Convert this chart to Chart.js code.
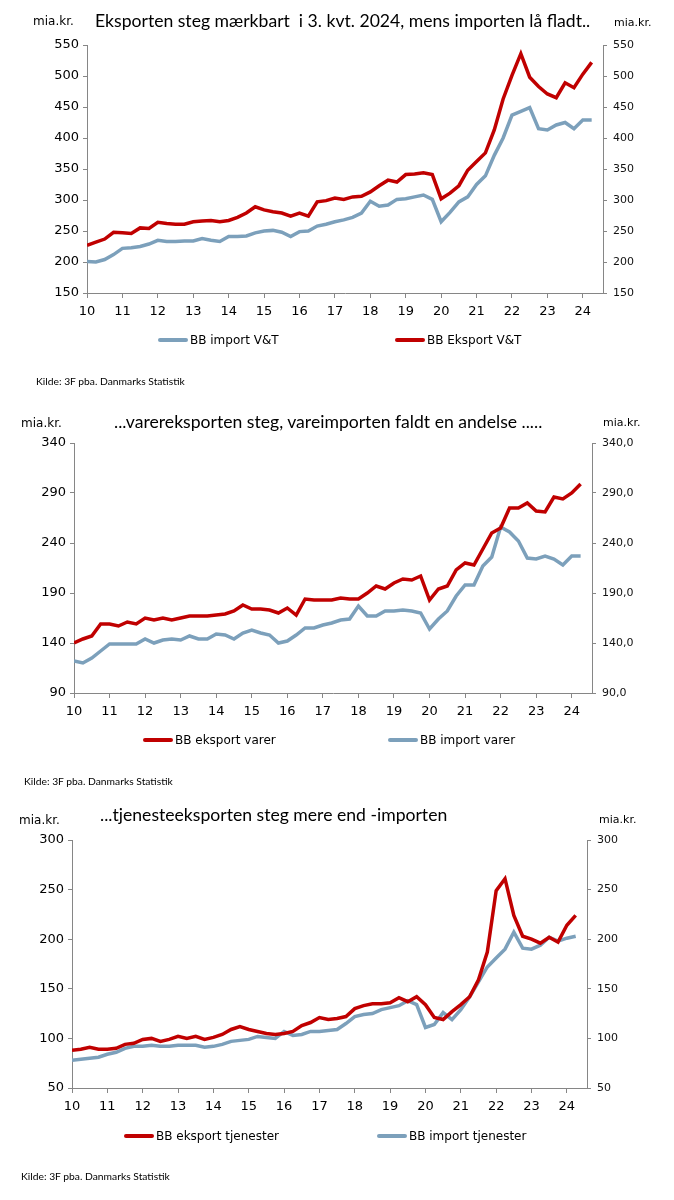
<!DOCTYPE html>
<html>
<head>
<meta charset="utf-8">
<script src="https://cdn.jsdelivr.net/npm/chart.js@4.4.1/dist/chart.umd.min.js"></script>
<style>
  body { margin: 0; background: #fff; }
  .panel { position: absolute; left: 0; width: 674px; height: 400px; }
  .panel canvas { position: absolute; left: 0; top: 0; }
  .title { position: absolute; font-family: Lato, sans-serif; font-size: 17.6px; line-height: 18px; color: #000; white-space: pre; }
  .unit { position: absolute; font-family: "DejaVu Sans", sans-serif; font-size: 12px; line-height: 12px; color: #000; }
  .unit.r { font-size: 11px; line-height: 11px; }
  .src { position: absolute; font-family: Lato, sans-serif; font-size: 10.3px; line-height: 11px; color: #000; white-space: pre; }
</style>
</head>
<body>

<div class="panel" style="top:0">
  <canvas id="c1" width="674" height="400"></canvas>
  <div class="title" style="left:95px; top:12px">Eksporten steg mærkbart  i 3. kvt. 2024, mens importen lå fladt..</div>
  <div class="unit" style="left:33px; top:15px">mia.kr.</div>
  <div class="unit r" style="left:614px; top:17px">mia.kr.</div>
  <div class="src" style="left:36px; top:376px">Kilde: 3F pba. Danmarks Statistik</div>
</div>

<div class="panel" style="top:400px">
  <canvas id="c2" width="674" height="400"></canvas>
  <div class="title" style="left:114px; top:13px">...varereksporten steg, vareimporten faldt en andelse .....</div>
  <div class="unit" style="left:21px; top:17px">mia.kr.</div>
  <div class="unit r" style="left:603px; top:17px">mia.kr.</div>
  <div class="src" style="left:24px; top:376px">Kilde: 3F pba. Danmarks Statistik</div>
</div>

<div class="panel" style="top:800px">
  <canvas id="c3" width="674" height="400"></canvas>
  <div class="title" style="left:100px; top:6px">...tjenesteeksporten steg mere end -importen</div>
  <div class="unit" style="left:19px; top:14px">mia.kr.</div>
  <div class="unit r" style="left:599px; top:14px">mia.kr.</div>
  <div class="src" style="left:21px; top:371px">Kilde: 3F pba. Danmarks Statistik</div>
</div>

<script>
// kvartaler 2010K1 - 2024K2
const quarters = [
  '2010K1', '2010K2', '2010K3', '2010K4', '2011K1', '2011K2', '2011K3', '2011K4',
  '2012K1', '2012K2', '2012K3', '2012K4', '2013K1', '2013K2', '2013K3', '2013K4',
  '2014K1', '2014K2', '2014K3', '2014K4', '2015K1', '2015K2', '2015K3', '2015K4',
  '2016K1', '2016K2', '2016K3', '2016K4', '2017K1', '2017K2', '2017K3', '2017K4',
  '2018K1', '2018K2', '2018K3', '2018K4', '2019K1', '2019K2', '2019K3', '2019K4',
  '2020K1', '2020K2', '2020K3', '2020K4', '2021K1', '2021K2', '2021K3', '2021K4',
  '2022K1', '2022K2', '2022K3', '2022K4', '2023K1', '2023K2', '2023K3', '2023K4',
  '2024K1', '2024K2'
];
const yearTicks = ['10', '11', '12', '13', '14', '15', '16', '17', '18', '19', '20', '21', '22', '23', '24'];

// varer og tjenester
const importVT = [
  201, 200, 204, 212, 222, 223, 225, 229,
  235, 233, 233, 234, 234, 238, 235, 233,
  241, 241, 242, 247, 250, 251, 248, 241,
  249, 250, 258, 261, 265, 268, 272, 279,
  298, 290, 292, 301, 302, 305, 308, 301,
  265, 280, 297, 305, 325, 339, 372, 400,
  437, 443, 449, 415, 413, 421, 425, 415,
  429, 429
];
const eksportVT = [
  227, 232, 237, 248, 247, 246, 255, 254,
  264, 262, 261, 261, 265, 266, 267, 265,
  267, 272, 279, 289, 284, 281, 279, 274,
  279, 274, 297, 299, 303, 301, 305, 306,
  313, 323, 332, 329, 341, 342, 344, 341,
  302, 311, 323, 348, 362, 376, 413, 463,
  501, 536, 498, 483, 471, 465, 489, 481,
  503, 522
];

// varer
const eksportVarer = [
  140, 144, 147, 159, 159, 157, 161, 159,
  165, 163, 165, 163, 165, 167, 167, 167,
  168, 169, 172, 178, 174, 174, 173, 170,
  175, 168, 184, 183, 183, 183, 185, 184,
  184, 190, 197, 194, 200, 204, 203, 207,
  183, 194, 197, 213, 220, 218, 234, 250,
  255, 275, 275, 280, 272, 271, 286, 284,
  290, 299
];
const importVarer = [
  122, 120, 125, 132, 139, 139, 139, 139,
  144, 140, 143, 144, 143, 147, 144, 144,
  149, 148, 144, 150, 153, 150, 148, 140,
  142, 148, 155, 155, 158, 160, 163, 164,
  177, 167, 167, 172, 172, 173, 172, 170,
  154, 164, 172, 187, 198, 198, 217, 226,
  256, 251, 242, 225, 224, 227, 224, 218,
  227, 227
];

// tjenester
const eksportTjen = [
  88, 89, 91, 89, 89, 90, 94, 95,
  99, 100, 97, 99, 102, 100, 102, 99,
  101, 104, 109, 112, 109, 107, 105, 104,
  105, 107, 113, 116, 121, 119, 120, 122,
  130, 133, 135, 135, 136, 141, 137, 142,
  134, 121, 119, 127, 134, 142, 159, 187,
  249, 261, 224, 203, 200, 196, 202, 197,
  214, 224
];
const importTjen = [
  78, 79, 80, 81, 84, 86, 90, 92,
  92, 93, 92, 92, 93, 93, 93, 91,
  92, 94, 97, 98, 99, 102, 101, 100,
  107, 103, 104, 107, 107, 108, 109, 115,
  122, 124, 125, 129, 131, 133, 138, 134,
  111, 114, 126, 119, 129, 142, 157, 172,
  181, 190, 207, 191, 190, 194, 202, 198,
  201, 203
];

const red = '#C00000';
const blue = '#7CA0BB';
const axisGray = '#868686';

function quarterX(q) {
  return parseInt(q.slice(0, 4)) + (parseInt(q.slice(5)) - 1) / 4;
}

// legende tegnet som korte linjer, placeret som i Excel-figuren
const lineLegend = {
  id: 'lineLegend',
  afterDraw(chart, args, opts) {
    const ctx = chart.ctx;
    ctx.save();
    ctx.font = '12px "DejaVu Sans"';
    ctx.textBaseline = 'middle';
    ctx.lineCap = 'round';
    chart.data.datasets.forEach((ds, i) => {
      const x = opts.xs[i];
      ctx.strokeStyle = ds.borderColor;
      ctx.lineWidth = 4;
      ctx.beginPath();
      ctx.moveTo(x + 2, opts.y);
      ctx.lineTo(x + 28, opts.y);
      ctx.stroke();
      ctx.fillStyle = '#000';
      ctx.fillText(ds.label, x + 32, opts.y + 1);
    });
    ctx.restore();
  }
};

const panels = [
  {
    id: 'c1', left: 87, right: 603, top: 45, bottom: 293, min: 150, max: 550,
    series: [
      { label: 'BB import V&T', data: importVT, color: blue },
      { label: 'BB Eksport V&T', data: eksportVT, color: red }
    ],
    rightFmt: v => String(v),
    legendY: 340, legendX: [158, 395]
  },
  {
    id: 'c2', left: 74, right: 592, top: 43, bottom: 293, min: 90, max: 340,
    series: [
      { label: 'BB eksport varer', data: eksportVarer, color: red },
      { label: 'BB import varer', data: importVarer, color: blue }
    ],
    rightFmt: v => v.toFixed(1).replace('.', ','),
    legendY: 340, legendX: [143, 388]
  },
  {
    id: 'c3', left: 72, right: 587, top: 40, bottom: 288, min: 50, max: 300,
    series: [
      { label: 'BB eksport tjenester', data: eksportTjen, color: red },
      { label: 'BB import tjenester', data: importTjen, color: blue }
    ],
    rightFmt: v => String(v),
    legendY: 336, legendX: [124, 377]
  }
];

function buildChart(p) {
  const xHeight = 32;
  new Chart(document.getElementById(p.id), {
    type: 'line',
    data: {
      datasets: p.series.map(s => ({
        label: s.label,
        data: s.data.map((v, i) => ({ x: quarterX(quarters[i]), y: v })),
        borderColor: s.color,
        backgroundColor: s.color,
        borderWidth: 3.5,
        pointRadius: 0,
        tension: 0,
        fill: false,
        yAxisID: 'y'
      }))
    },
    options: {
      responsive: false,
      animation: false,
      events: [],
      layout: { padding: { top: p.top, left: 0, right: 0, bottom: 400 - p.bottom - xHeight } },
      plugins: {
        legend: { display: false },
        tooltip: { enabled: false },
        lineLegend: { y: p.legendY, xs: p.legendX }
      },
      scales: {
        x: {
          type: 'linear',
          min: 2010,
          max: 2024.57,
          afterFit: s => { s.height = xHeight; },
          border: { color: axisGray, width: 1 },
          grid: { drawOnChartArea: false, color: axisGray, tickLength: 5 },
          ticks: {
            stepSize: 1,
            includeBounds: false,
            autoSkip: false,
            maxRotation: 0,
            padding: 6,
            color: '#000',
            font: { family: 'DejaVu Sans', size: 13 },
            callback: v => yearTicks[Math.round(v) - 2010]
          }
        },
        y: {
          position: 'left',
          min: p.min,
          max: p.max,
          afterFit: s => { s.width = p.left; },
          border: { color: axisGray, width: 1 },
          grid: { drawOnChartArea: false, color: axisGray, tickLength: 4 },
          ticks: {
            stepSize: 50,
            padding: 4,
            color: '#000',
            font: { family: 'DejaVu Sans', size: 13 }
          }
        },
        y2: {
          position: 'right',
          min: p.min,
          max: p.max,
          afterFit: s => { s.width = 674 - p.right; },
          border: { color: axisGray, width: 1 },
          grid: { drawOnChartArea: false, color: axisGray, tickLength: 4 },
          ticks: {
            stepSize: 50,
            padding: 6,
            color: '#111',
            font: { family: 'DejaVu Sans', size: 11 },
            callback: p.rightFmt
          }
        }
      }
    },
    plugins: [lineLegend]
  });
}

panels.forEach(buildChart);
</script>
</body>
</html>
